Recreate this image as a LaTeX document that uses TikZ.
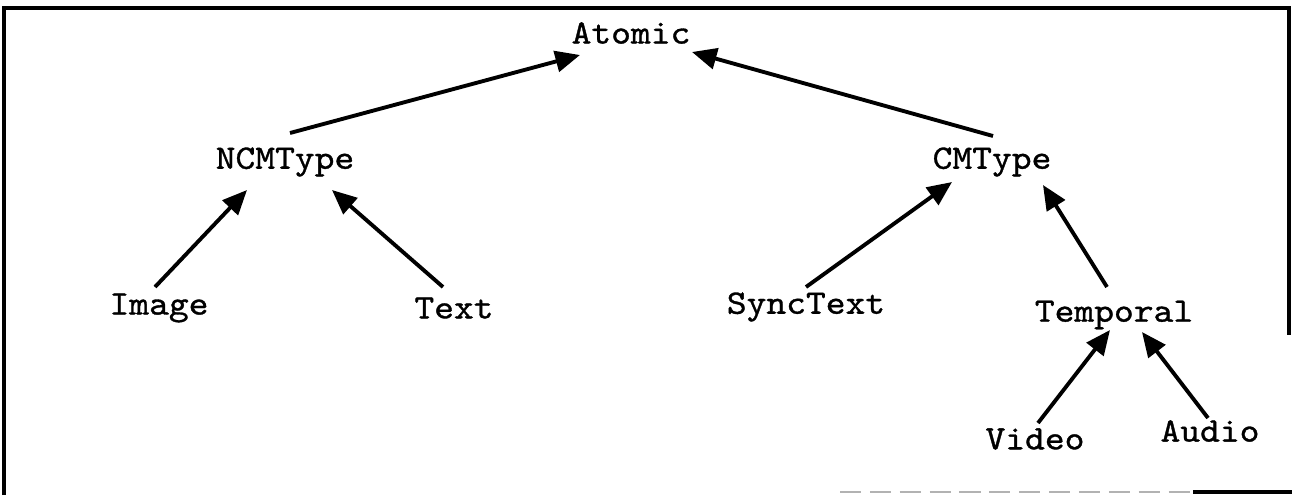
\documentclass[tikz,border=0pt]{standalone}
\usepackage{fontspec}
\newfontfamily\courfont{lmmono10-regular.otf}[FakeStretch=1.1,FakeBold=1]
\usetikzlibrary{arrows.meta}
\begin{document}
\begin{tikzpicture}[x=0.02cm,y=-0.02cm,
  lbl/.style={inner sep=0pt,font=\courfont\fontsize{19.5}{21}\selectfont},
  arr/.style={line width=2.2pt,-{Triangle[length=14pt,width=12pt]}},
  frame/.style={line width=2.2pt}]
\useasboundingbox (0,0) rectangle (1292,495);
% frame
\coordinate (f1) at (4,495);
\coordinate (f2) at (4,8);
\coordinate (f3) at (1289,8);
\coordinate (f4) at (1289,335);
\draw[frame] (f1) -- (f2) -- (f3) -- (f4);
\coordinate (b1) at (840,492);
\coordinate (b2) at (1193,492);
\coordinate (b3) at (1292,492);
\draw[line width=1.5pt,gray!60,dash pattern=on 12pt off 5pt] (b1) -- (b2);
\draw[frame] (b2) -- (b3);
% nodes
\node[lbl] (Atomic) at (631,33) {Atomic};
\node[lbl] (NCM) at (285,162) {NCMType};
\node[lbl] (CM) at (992,162) {CMType};
\node[lbl] (Image) at (159,308) {Image};
\node[lbl] (Text) at (454,308) {Text};
\node[lbl] (Sync) at (806,307) {SyncText};
\node[lbl] (Temporal) at (1114,315) {Temporal};
\node[lbl] (Video) at (1035,439) {Video};
\node[lbl] (Audio) at (1210,431) {Audio};
% edges
\draw[arr] ([shift={(5,-29)}]NCM.center) -- ([shift={(-51,22)}]Atomic.center);
\draw[arr] ([shift={(1,-26)}]CM.center) -- ([shift={(61,19)}]Atomic.center);
\draw[arr] ([shift={(-4,-21)}]Image.center) -- ([shift={(-38,28)}]NCM.center);
\draw[arr] ([shift={(-11,-21)}]Text.center) -- ([shift={(47,28)}]NCM.center);
\draw[arr] ([shift={(0,-20)}]Sync.center) -- ([shift={(-40,20)}]CM.center);
\draw[arr] ([shift={(-7,-28)}]Temporal.center) -- ([shift={(51,23)}]CM.center);
\draw[arr] ([shift={(3,-16)}]Video.center) -- ([shift={(-4,15)}]Temporal.center);
\draw[arr] ([shift={(-2,-13)}]Audio.center) -- ([shift={(28,17)}]Temporal.center);
\end{tikzpicture}
\end{document}
